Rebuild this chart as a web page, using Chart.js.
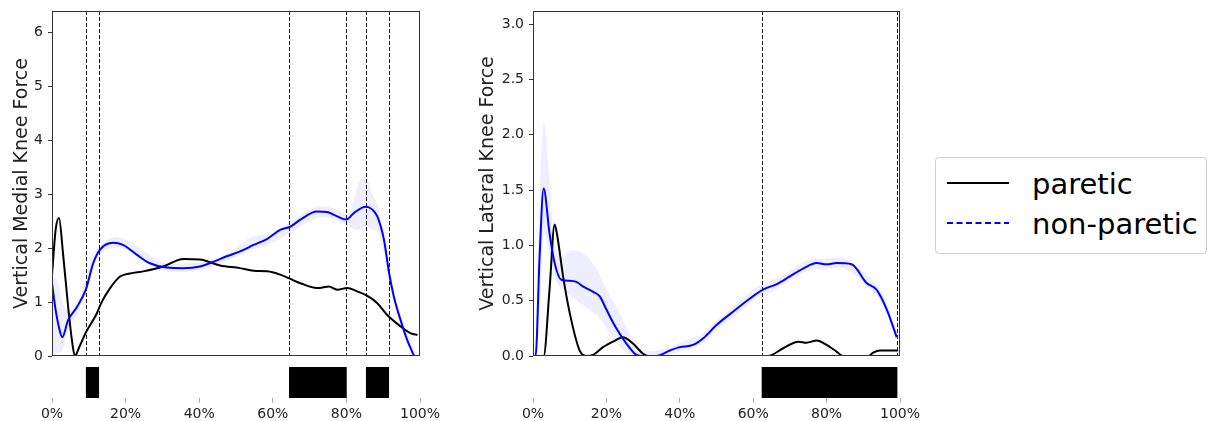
<!DOCTYPE html>
<html>
<head>
<meta charset="utf-8">
<script src="https://cdn.jsdelivr.net/npm/chart.js@4.4.1/dist/chart.umd.min.js"></script>
<style>
  body { margin: 0; background: #fff; width: 1212px; height: 421px; position: relative; overflow: hidden; font-family: "DejaVu Sans", sans-serif; }
  canvas { position: absolute; }
  #legend { position: absolute; left: 935px; top: 157px; width: 270px; height: 95px; border: 1px solid #cfcfcf; border-radius: 4px; }
  #legend .txt { position: absolute; left: 96px; font-size: 29px; line-height: 29px; color: #000; white-space: nowrap; }
  #legend svg { position: absolute; left: 11px; }
</style>
</head>
<body>
<canvas id="medial" width="425" height="360" style="left:0;top:0"></canvas>
<canvas id="medialEvents" width="450" height="59" style="left:0;top:362px"></canvas>
<canvas id="lateral" width="435" height="360" style="left:470px;top:0"></canvas>
<canvas id="lateralEvents" width="450" height="59" style="left:470px;top:362px"></canvas>
<div id="legend"></div>

<script>
const seriesNames = ['paretic', 'non-paretic'];
const xTicks = [0, 20, 40, 60, 80, 100];
const medialTicks = [0, 1, 2, 3, 4, 5, 6];
const lateralTicks = [0, 0.5, 1, 1.5, 2, 2.5, 3];

// medial knee force, % gait cycle vs force
const medialPareticX = [0, 1, 1.9, 3, 4.4, 5.5, 6.2, 7.5, 9.3, 12.1, 13.5, 15.7, 18.4, 21.2, 24.8, 30.2, 35.7, 40.2, 45.7, 51.1, 54.8, 58.4, 62, 64.8, 67.5, 72, 73.5, 75.2, 77.5, 80.2, 82.9, 85.6, 88.4, 91.1, 94.7, 97.5, 99.3];
const medialPareticY = [1.5, 2.35, 2.56, 1.9, 0.9, 0.25, 0, 0.18, 0.45, 0.78, 1.0, 1.25, 1.47, 1.53, 1.57, 1.66, 1.8, 1.79, 1.68, 1.63, 1.58, 1.57, 1.51, 1.43, 1.35, 1.26, 1.27, 1.29, 1.23, 1.26, 1.2, 1.12, 0.98, 0.76, 0.55, 0.42, 0.39];
const medialNonParX = [0, 1, 2, 2.8, 4.4, 6.6, 9.2, 11.2, 13, 16.6, 19.3, 23, 26.6, 31.2, 35.7, 40.2, 43.9, 47.5, 51.1, 54.8, 58.4, 62, 64.8, 67.5, 72, 74.7, 77.5, 79.9, 82, 85.2, 87, 88.4, 90.2, 91.6, 92.9, 94.7, 96.5, 98.4];
const medialNonParY = [1.35, 0.85, 0.5, 0.35, 0.67, 0.89, 1.23, 1.72, 1.97, 2.1, 2.06, 1.88, 1.72, 1.64, 1.63, 1.66, 1.75, 1.85, 1.94, 2.06, 2.17, 2.34, 2.4, 2.53, 2.68, 2.67, 2.59, 2.53, 2.65, 2.77, 2.72, 2.59, 2.16, 1.54, 1.1, 0.67, 0.3, 0];
const medialBandX = [0, 1.5, 2.8, 4.4, 7, 11, 13, 16.6, 20, 25, 30, 36, 42, 48, 54, 60, 65, 70, 74, 78, 80, 82, 84, 85.5, 87, 88.5, 90, 92, 95, 98.4];
const medialBandLo = [0, 0.05, 0.1, 0.5, 0.8, 1.6, 1.9, 2.0, 1.98, 1.75, 1.58, 1.56, 1.62, 1.78, 1.96, 2.1, 2.3, 2.5, 2.58, 2.5, 2.44, 2.35, 2.35, 2.4, 2.35, 2.3, 2.0, 1.3, 0.55, 0];
const medialBandHi = [1.5, 1.4, 1.0, 0.85, 1.0, 1.85, 2.05, 2.2, 2.16, 1.95, 1.74, 1.72, 1.75, 1.92, 2.2, 2.28, 2.5, 2.72, 2.78, 2.7, 2.62, 2.9, 3.3, 3.3, 3.0, 2.8, 2.3, 1.5, 0.72, 0.1];
const medialEvents = [[9.3, 12.7], [64.5, 80.0], [85.4, 91.5]];

// lateral knee force
const lateralPareticX = [0, 2.9, 4.5, 5.9, 6.5, 8.2, 10, 12.7, 14.5, 16.4, 19.1, 21.8, 24.5, 27.3, 30, 31.4, 64, 68.2, 72.3, 74.5, 77.3, 80, 82.7, 84.5, 91.4, 92.7, 94.5, 99.5];
const lateralPareticY = [0, 0, 0.6, 1.19, 1.11, 0.72, 0.39, 0.05, 0, 0.01, 0.08, 0.13, 0.17, 0.11, 0.02, 0, 0, 0.07, 0.13, 0.12, 0.14, 0.1, 0.04, 0, 0, 0.03, 0.05, 0.05];
const lateralNonParX = [0, 0.7, 1.8, 2.9, 4.5, 5.9, 7.7, 10, 11.8, 13.6, 16.4, 18.2, 20, 22.7, 25.5, 28.2, 30, 33.6, 37.3, 40, 43.6, 46.4, 50, 54.5, 59.1, 62.7, 66.4, 70, 73.6, 77.3, 80, 82.7, 86.8, 90.9, 93.6, 96.4, 99.1];
const lateralNonParY = [0, 0, 0.9, 1.515, 1.11, 0.84, 0.69, 0.68, 0.67, 0.63, 0.58, 0.54, 0.42, 0.25, 0.11, 0.01, 0, 0, 0.05, 0.08, 0.1, 0.16, 0.28, 0.4, 0.52, 0.6, 0.65, 0.72, 0.79, 0.84, 0.83, 0.84, 0.83, 0.66, 0.6, 0.42, 0.17];
const lateralBandX = [0.7, 2, 3, 4.5, 6, 8, 10, 12, 14, 16, 18, 20, 22.7, 25.5, 28, 31, 35, 40, 46, 50, 55, 60, 65, 70, 75, 80, 85, 90, 95, 99.1];
const lateralBandLo = [0, 0.5, 1.1, 0.95, 0.7, 0.6, 0.55, 0.5, 0.45, 0.4, 0.35, 0.25, 0.12, 0.03, 0, 0, 0, 0.04, 0.11, 0.24, 0.36, 0.5, 0.58, 0.68, 0.77, 0.79, 0.79, 0.66, 0.48, 0.13];
const lateralBandHi = [0, 1.6, 2.1, 1.6, 1.0, 0.9, 0.95, 0.95, 0.92, 0.85, 0.75, 0.6, 0.45, 0.25, 0.1, 0.05, 0.06, 0.12, 0.2, 0.32, 0.46, 0.6, 0.68, 0.77, 0.87, 0.88, 0.88, 0.76, 0.58, 0.21];
const lateralEvents = [[62.4, 99.2]];

const FONT = 'DejaVu Sans';
Chart.defaults.font.family = FONT;
Chart.defaults.color = '#222';

function pts(xs, ys) {
  return xs.map((x, i) => ({ x: x, y: ys[i] }));
}

// axes frame + dashed event boundaries
const frameAndEvents = {
  id: 'frameAndEvents',
  beforeDatasetsDraw(chart, args, opts) {
    const { ctx, chartArea: a, scales: { x } } = chart;
    ctx.save();
    ctx.strokeStyle = '#000';
    ctx.lineWidth = 0.9;
    ctx.setLineDash([4, 2]);
    opts.events.forEach(ev => ev.forEach(v => {
      const px = Math.round(x.getPixelForValue(v)) + 0.5;
      ctx.beginPath();
      ctx.moveTo(px, a.top);
      ctx.lineTo(px, a.bottom);
      ctx.stroke();
    }));
    ctx.restore();
  },
  afterDatasetsDraw(chart) {
    const { ctx, chartArea: a } = chart;
    ctx.save();
    ctx.strokeStyle = '#333';
    ctx.lineWidth = 1;
    ctx.strokeRect(a.left + 0.5, a.top + 0.5, a.right - a.left - 1, a.bottom - a.top - 1);
    ctx.restore();
  }
};

function forceChart(id, cfg) {
  return new Chart(document.getElementById(id), {
    type: 'line',
    data: {
      datasets: [
        { data: pts(cfg.bandX, cfg.bandHi), borderWidth: 0, pointRadius: 0, fill: '+1', backgroundColor: 'rgba(40,40,255,0.08)', tension: 0.4, order: 3 },
        { data: pts(cfg.bandX, cfg.bandLo), borderWidth: 0, pointRadius: 0, fill: false, tension: 0.4, order: 3 },
        { label: seriesNames[0], data: pts(cfg.parX, cfg.parY), borderColor: '#000', borderWidth: 2, pointRadius: 0, cubicInterpolationMode: 'monotone', order: 2 },
        { label: seriesNames[1], data: pts(cfg.nonX, cfg.nonY), borderColor: '#0000ff', borderWidth: 2, pointRadius: 0, cubicInterpolationMode: 'monotone', order: 1 }
      ]
    },
    options: {
      responsive: false,
      animation: false,
      layout: { padding: { top: 11, right: 5, bottom: 4, left: 0 } },
      plugins: {
        legend: { display: false },
        tooltip: { enabled: false },
        frameAndEvents: { events: cfg.events }
      },
      scales: {
        x: { type: 'linear', min: 0, max: 100, display: false },
        y: {
          min: 0, max: cfg.yMax,
          afterBuildTicks: s => { s.ticks = cfg.ticks.map(v => ({ value: v })); },
          ticks: { font: { size: 14 }, color: '#222', padding: 5, callback: cfg.fmt },
          grid: { drawOnChartArea: false, tickLength: 4, color: '#333' },
          border: { display: false },
          title: { display: true, text: cfg.title, font: { size: 19 }, color: '#222', padding: { top: cfg.titlePad } },
          afterFit: s => { s.width = cfg.axisWidth; s.paddingTop = 0; s.paddingBottom = 0; }
        }
      }
    },
    plugins: [frameAndEvents]
  });
}

// black blocks under each panel
function eventStrip(id, events, padLeft, padRight) {
  return new Chart(document.getElementById(id), {
    type: 'bar',
    data: {
      labels: [''],
      datasets: events.map(ev => ({ data: [ev], backgroundColor: '#000', barPercentage: 1, categoryPercentage: 1, grouped: false }))
    },
    options: {
      indexAxis: 'y',
      responsive: false,
      animation: false,
      layout: { padding: { left: padLeft, right: padRight, top: 5, bottom: 0 } },
      plugins: { legend: { display: false }, tooltip: { enabled: false } },
      scales: {
        y: { display: false },
        x: {
          type: 'linear', min: 0, max: 100,
          afterBuildTicks: s => { s.ticks = xTicks.map(v => ({ value: v })); },
          ticks: { font: { size: 14 }, color: '#222', padding: 3, callback: v => v + '%' },
          grid: { drawOnChartArea: false, tickLength: 5, color: '#aaa' },
          border: { display: false },
          afterFit: s => { s.height = 23; s.paddingLeft = 0; s.paddingRight = 0; }
        }
      }
    }
  });
}

const medial = forceChart('medial', {
  parX: medialPareticX, parY: medialPareticY,
  nonX: medialNonParX, nonY: medialNonParY,
  bandX: medialBandX, bandLo: medialBandLo, bandHi: medialBandHi,
  events: medialEvents, ticks: medialTicks, yMax: 6.4,
  fmt: v => String(v), title: 'Vertical Medial Knee Force',
  axisWidth: 52, titlePad: 11
});

forceChart('lateral', {
  parX: lateralPareticX, parY: lateralPareticY,
  nonX: lateralNonParX, nonY: lateralNonParY,
  bandX: lateralBandX, bandLo: lateralBandLo, bandHi: lateralBandHi,
  events: lateralEvents, ticks: lateralTicks, yMax: 3.12,
  fmt: v => v.toFixed(1), title: 'Vertical Lateral Knee Force',
  axisWidth: 63, titlePad: 7
});

eventStrip('medialEvents', medialEvents, 52, 30);
eventStrip('lateralEvents', lateralEvents, 63, 20);

// legend: paretic solid, non-paretic dashed
const legendStyle = [{ color: '#000', dash: '' }, { color: '#0000ff', dash: '6 3.5' }];
const rowMid = [24.5, 64.5];
const legendBox = document.getElementById('legend');
medial.data.datasets.filter(d => d.label).forEach((d, i) => {
  const st = legendStyle[i];
  legendBox.insertAdjacentHTML('beforeend',
    '<svg width="62" height="4" style="top:' + (rowMid[i] - 2) + 'px">' +
    '<line x1="0" y1="2" x2="62" y2="2" stroke="' + st.color + '" stroke-width="2" stroke-dasharray="' + st.dash + '"/></svg>' +
    '<div class="txt" style="top:' + (rowMid[i] - 13) + 'px">' + d.label + '</div>');
});
</script>
</body>
</html>
